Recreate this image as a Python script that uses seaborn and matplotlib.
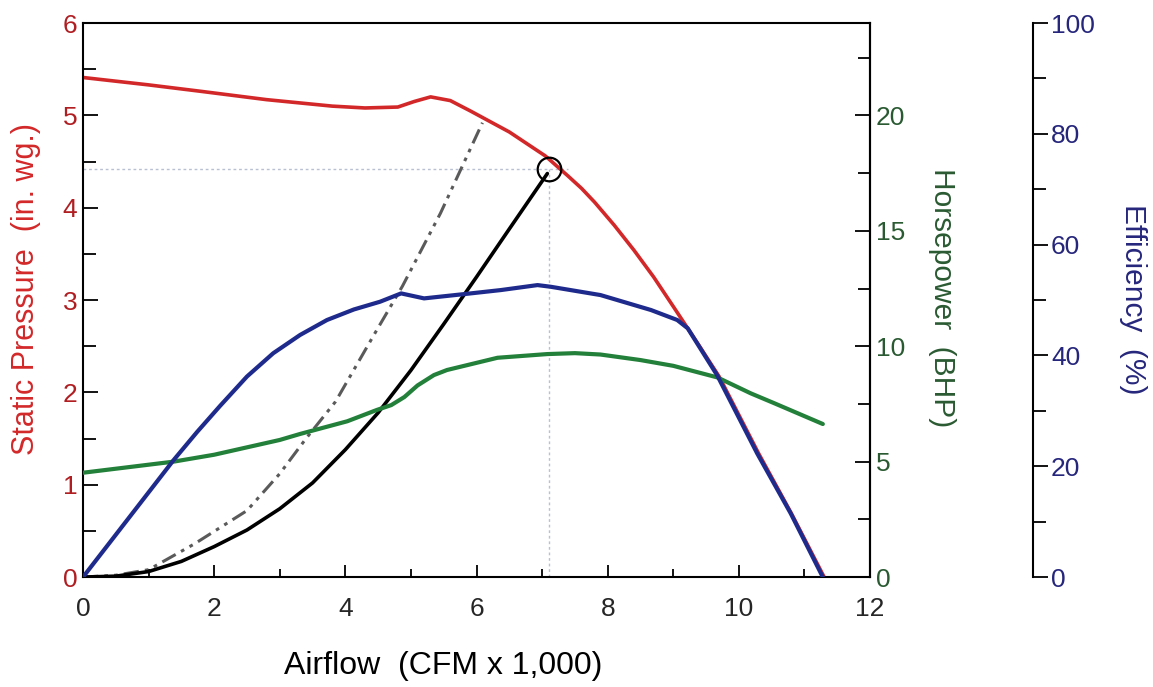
import matplotlib
matplotlib.use("Agg")
import matplotlib.pyplot as plt
import seaborn as sns
from matplotlib.ticker import MultipleLocator

# fan curve data (airflow in CFM x 1,000)
sp_flow = [0, 1.0, 1.8, 2.8, 3.8, 4.3, 4.8, 5.05, 5.3, 5.6, 5.9, 6.5, 7.05, 7.4, 7.6,
           7.8, 8.1, 8.4, 8.7, 9.0, 9.4, 9.7, 10.3, 10.8, 11.3]
static_pressure = [5.41, 5.33, 5.26, 5.17, 5.10, 5.08, 5.09, 5.15, 5.20, 5.16, 5.05, 4.82,
                   4.56, 4.34, 4.21, 4.06, 3.81, 3.54, 3.25, 2.93, 2.50, 2.17, 1.34, 0.69, 0.0]

eff_flow = [0, 0.7, 1.38, 1.74, 2.09, 2.5, 2.9, 3.31, 3.72, 4.13, 4.53, 4.85, 5.2, 5.91,
            6.37, 6.93, 7.13, 7.89, 8.66, 9.06, 9.22, 9.67, 10.28, 10.79, 11.28]
efficiency = [0, 10.7, 21.1, 26.2, 30.9, 36.2, 40.4, 43.7, 46.4, 48.3, 49.7, 51.2, 50.3,
              51.2, 51.8, 52.7, 52.4, 50.9, 48.2, 46.4, 44.9, 36.4, 22.3, 11.5, 0]

hp_flow = [0, 1.38, 2.0, 3.0, 3.31, 4.03, 4.48, 4.7, 4.9, 5.1, 5.35, 5.55, 6.32, 7.08,
           7.5, 7.89, 8.5, 9.0, 9.67, 10.18, 10.54, 11.28]
horsepower = [4.52, 5.0, 5.3, 5.94, 6.2, 6.75, 7.24, 7.45, 7.8, 8.3, 8.75, 8.97, 9.5,
              9.66, 9.7, 9.64, 9.40, 9.15, 8.65, 7.96, 7.53, 6.63]

# system curves
sys_flow = [0, 0.5, 1.0, 1.5, 2.0, 2.5, 3.0, 3.5, 4.0, 4.5, 5.0, 5.5, 6.0, 6.5, 7.08]
sys_pressure = [0, 0.01, 0.06, 0.17, 0.33, 0.51, 0.74, 1.02, 1.38, 1.78, 2.24, 2.74,
                3.25, 3.77, 4.37]

alt_flow = [0, 0.5, 1.0, 1.7, 2.5, 3.0, 3.4, 3.85, 4.45, 4.87, 5.45, 6.09]
alt_pressure = [0, 0.02, 0.08, 0.36, 0.72, 1.12, 1.5, 1.9, 2.64, 3.15, 3.94, 4.92]

# operating point
op_flow = 7.1
op_pressure = 4.42
guide_end = 7.4

RED = "#d3282a"
RED_TXT = "#b01e22"
GREEN = "#23803a"
GREEN_TXT = "#2a5a32"
BLUE = "#1f2b8c"
BLUE_TXT = "#26267c"

sns.set_style("white")
plt.rcParams['font.family'] = ['Liberation Sans', 'DejaVu Sans']

fig, ax = plt.subplots(figsize=(11.53, 6.87), dpi=100)
fig.subplots_adjust(left=0.072, right=0.7546, bottom=0.160, top=0.9665)
ax_hp = ax.twinx()
ax_eff = ax.twinx()

# guide lines to operating point
ax.hlines(op_pressure, 0, guide_end, color="#b9c0d2", lw=1, linestyle=(0, (2, 2)))
ax.vlines(op_flow, 0, op_pressure, color="#b9c0d2", lw=1, linestyle=(0, (2, 2)))

sns.lineplot(x=alt_flow, y=alt_pressure, ax=ax, color="#5a5a5a", lw=2.2,
             linestyle=(0, (5, 2, 1.2, 2, 1.2, 2)))
sns.lineplot(x=sys_flow, y=sys_pressure, ax=ax, color="black", lw=2.6)
sns.lineplot(x=sp_flow, y=static_pressure, ax=ax, color=RED, lw=2.6)
ax.plot(op_flow, op_pressure, marker="o", mfc="none", mec="black", ms=17, mew=1.6)

sns.lineplot(x=hp_flow, y=horsepower, ax=ax_hp, color=GREEN, lw=3)
sns.lineplot(x=eff_flow, y=efficiency, ax=ax_eff, color=BLUE, lw=3)

# main axes
ax.set_xlim(0, 12)
ax.set_ylim(0, 6)
ax.xaxis.set_major_locator(MultipleLocator(2))
ax.xaxis.set_minor_locator(MultipleLocator(1))
ax.yaxis.set_major_locator(MultipleLocator(1))
ax.yaxis.set_minor_locator(MultipleLocator(0.5))
for s in ax.spines.values():
    s.set_color("black")
    s.set_linewidth(1.5)
ax.tick_params(axis="x", which="both", direction="in", bottom=True, top=False,
               labelsize=19, pad=14, width=1.3, color="black")
ax.tick_params(axis="x", which="major", length=9)
ax.tick_params(axis="x", which="minor", length=6)
ax.tick_params(axis="y", which="both", direction="in", left=True, right=False,
               labelsize=19, labelcolor=RED_TXT, pad=4, width=1.3, color="black")
ax.tick_params(axis="y", which="major", length=11)
ax.tick_params(axis="y", which="minor", length=9)

ax.set_xlabel("Airflow  (CFM x 1,000)", fontsize=23, color="black")
ax.xaxis.set_label_coords(0.457, -0.133)
ax.set_ylabel("Static Pressure  (in. wg.)", fontsize=22, color=RED)
ax.yaxis.set_label_coords(-0.054, 0.52)

# horsepower axis
ax_hp.set_ylim(0, 24)
ax_hp.yaxis.set_major_locator(MultipleLocator(5))
ax_hp.yaxis.set_minor_locator(MultipleLocator(2.5))
for k in ["top", "left", "bottom"]:
    ax_hp.spines[k].set_visible(False)
ax_hp.spines["right"].set_color("black")
ax_hp.spines["right"].set_linewidth(1.5)
ax_hp.tick_params(axis="y", which="both", direction="in", right=True, left=False,
                  labelsize=19, labelcolor=GREEN_TXT, pad=4, width=1.3, color="black")
ax_hp.tick_params(axis="y", which="major", length=11)
ax_hp.tick_params(axis="y", which="minor", length=9)
ax_hp.set_ylabel("Horsepower  (BHP)", fontsize=21.5, color=GREEN_TXT, rotation=270,
                 va="bottom")
ax_hp.yaxis.set_label_coords(1.074, 0.504)

# efficiency axis
ax_eff.set_ylim(0, 100)
ax_eff.yaxis.set_major_locator(MultipleLocator(20))
ax_eff.yaxis.set_minor_locator(MultipleLocator(10))
for k in ["top", "left", "bottom"]:
    ax_eff.spines[k].set_visible(False)
ax_eff.spines["right"].set_position(("axes", 1.207))
ax_eff.spines["right"].set_color("black")
ax_eff.spines["right"].set_linewidth(1.5)
ax_eff.tick_params(axis="y", which="both", direction="out", right=True, left=False,
                   labelsize=19, labelcolor=BLUE_TXT, pad=2, width=1.3, color="black")
ax_eff.tick_params(axis="y", which="major", length=11)
ax_eff.tick_params(axis="y", which="minor", length=9)
ax_eff.set_ylabel("Efficiency  (%)", fontsize=21.5, color=BLUE_TXT, rotation=270,
                  va="bottom")
ax_eff.yaxis.set_label_coords(1.316, 0.502)

fig.savefig("out.png", dpi=100)
